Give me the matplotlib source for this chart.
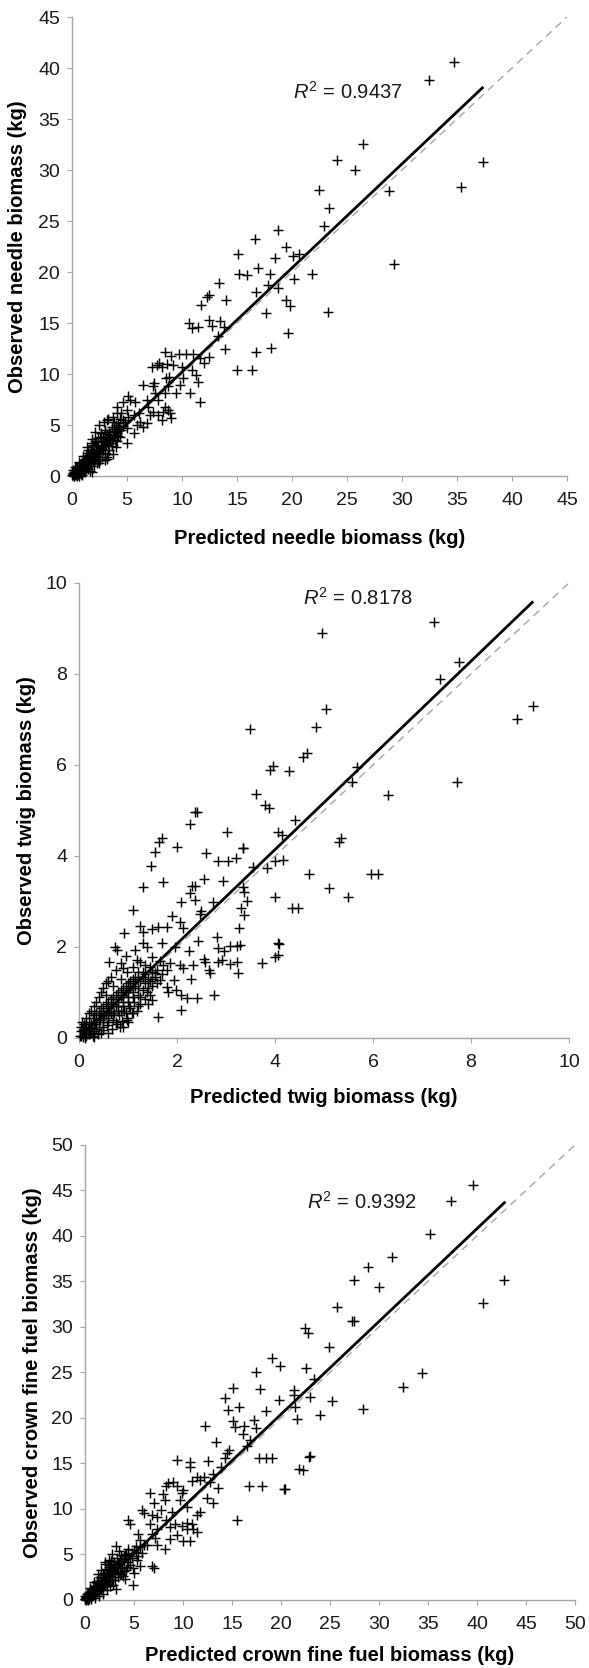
import numpy as np
import matplotlib
matplotlib.use("Agg")
import matplotlib.pyplot as plt

plt.rcParams['font.family'] = ['Liberation Sans', 'DejaVu Sans']
plt.rcParams['mathtext.fontset'] = 'custom'
plt.rcParams['mathtext.rm'] = 'Liberation Sans'
plt.rcParams['mathtext.it'] = 'Liberation Sans:italic'

# ---- needle biomass: (predicted, observed) in kg ----
needle_points = [
    (34.7, 40.6), (32.5, 38.8), (26.5, 32.6), (24.1, 31.0), (25.7, 30.0), (37.4, 30.8),
    (35.4, 28.3), (22.5, 28.0), (28.8, 27.9), (23.4, 26.3), (22.9, 24.5), (18.7, 24.1),
    (16.6, 23.2), (19.5, 22.5), (29.3, 20.8), (23.3, 16.1), (21.8, 19.8), (20.6, 21.8),
    (15.1, 21.8), (18.5, 21.4), (20.1, 21.6), (16.9, 20.4), (15.2, 19.8), (15.9, 19.7),
    (18.0, 19.8), (20.2, 19.3), (18.7, 18.4), (17.8, 18.7), (13.4, 18.9), (16.7, 18.0),
    (12.5, 17.7), (12.3, 17.6), (14.0, 17.3), (19.5, 17.3), (19.8, 16.7), (11.7, 16.8),
    (17.6, 16.0), (10.6, 15.0), (12.5, 15.3), (13.5, 15.2), (10.9, 14.5), (11.5, 14.6),
    (12.7, 14.7), (13.8, 14.6), (19.6, 14.0), (13.3, 13.7), (16.7, 12.2), (18.1, 12.6),
    (13.9, 12.5), (11.6, 11.6), (12.5, 11.7), (15.0, 10.4), (16.4, 10.4), (12.0, 11.1),
    (11.6, 7.3), (10.7, 8.1),
    (7.24, 10.72), (7.7, 10.9), (7.94, 11.1), (8.5, 12.2), (8.6, 11.0), (9.0, 11.8),
    (9.7, 12.0), (10.4, 12.0), (11.0, 12.0), (9.2, 10.9), (10.0, 10.7), (8.2, 10.7),
    (8.85, 9.7), (8.55, 9.6), (10.06, 9.6), (11.3, 9.9), (10.9, 10.4), (11.5, 9.25),
    (9.8, 8.9), (9.5, 8.1), (7.4, 8.8), (6.5, 8.9), (7.5, 9.1), (7.55, 8.1),
    (8.45, 8.1), (8.75, 8.8), (7.8, 7.45), (6.8, 7.45), (6.94, 6.8), (8.45, 6.8),
    (8.75, 6.5), (8.3, 6.3), (8.9, 6.2), (8.2, 5.5), (7.85, 6.0), (7.4, 6.3),
    (7.1, 6.0), (9.0, 5.7), (6.5, 4.8), (6.8, 5.2), (6.2, 5.3), (5.9, 5.0),
    (5.6, 6.0), (6.1, 6.2), (5.3, 7.45), (5.7, 7.3), (5.1, 7.8), (4.6, 7.3),
    (4.06, 6.8), (4.1, 6.2), (4.5, 6.2), (4.97, 6.5), (5.12, 5.8), (4.67, 5.5),
    (3.76, 5.8), (3.15, 5.5), (4.2, 5.2), (5.6, 4.2), (4.97, 3.2), (4.36, 3.85),
    (3.9, 4.35), (3.45, 3.7), (3.0, 4.35), (2.55, 3.85), (2.1, 3.4), (1.8, 3.2),
    (2.85, 3.0), (3.6, 2.9), (2.55, 2.55), (3.3, 2.2), (1.94, 2.1), (1.33, 1.7),
    (2.55, 1.6), (1.64, 1.3), (0.88, 1.1), (0.42, 0.8), (1.79, 0.37), (1.18, 0.6),
    (0.73, 0.46), (0.12, 0.24), (0.0, 0.1), (0.27, 0.6), (0.58, 0.3), (1.03, 0.95),
    (1.48, 2.55), (2.24, 2.9), (4.06, 3.4), (3.15, 1.7), (2.24, 1.3), (1.33, 1.3),
    (0.05, 0.1), (0.1, 0.3), (0.15, 0.05), (0.2, 0.4), (0.25, 0.2), (0.3, 0.6),
    (0.35, 0.1), (0.4, 0.5), (0.45, 0.3), (0.5, 0.8), (0.55, 0.2), (0.6, 0.6),
    (0.7, 1.0), (0.7, 0.3), (0.8, 0.7), (0.9, 1.3), (0.9, 0.5), (1.0, 1.0),
    (1.1, 1.6), (1.1, 0.6), (1.2, 1.2), (1.3, 2.0), (1.3, 0.8), (1.4, 1.5),
    (1.5, 2.3), (1.5, 1.0), (1.6, 1.8), (1.7, 2.6), (1.7, 1.2), (1.8, 2.1),
    (1.9, 3.0), (1.9, 1.5), (2.0, 2.4), (2.1, 1.8), (2.2, 3.3), (2.2, 2.0),
    (2.3, 2.7), (2.4, 3.7), (2.4, 1.6), (2.5, 2.2), (2.6, 3.0), (2.6, 4.2),
    (2.7, 1.9), (2.8, 2.6), (2.9, 3.4), (3.0, 2.3), (3.0, 4.5), (3.1, 3.0),
    (3.2, 1.9), (3.3, 3.8), (3.4, 2.6), (3.5, 4.0), (3.6, 3.2), (3.7, 2.2),
    (3.8, 4.6), (3.9, 3.5), (4.0, 2.8), (4.2, 3.9), (4.3, 4.8), (0.2, 0.0),
    (0.5, 0.05), (0.8, 0.2), (1.2, 0.35), (1.6, 0.5), (0.3, 0.9), (0.6, 1.4),
    (1.0, 2.0), (1.4, 2.8), (1.8, 3.6), (2.1, 4.3), (2.5, 5.0), (2.9, 5.3), (3.3, 5.6),
    (0.4, 0.9), (0.6, 0.9), (0.8, 1.1), (1.0, 1.4), (1.2, 1.7), (1.4, 2.0),
    (1.6, 2.3), (1.8, 2.6), (2.0, 2.9), (2.2, 2.5), (2.4, 2.9), (2.6, 3.4),
    (2.8, 3.8), (3.0, 3.6), (3.2, 4.1), (3.4, 4.4), (3.6, 4.8), (3.8, 5.3),
    (4.0, 5.0), (4.2, 4.4), (4.4, 5.6), (4.6, 4.9), (4.8, 5.3), (5.0, 4.7),
    (0.3, 0.3), (0.5, 0.5), (0.7, 0.7), (0.9, 0.9), (1.1, 1.1), (1.3, 1.3),
    (1.5, 1.5), (1.7, 1.7), (1.9, 2.0), (2.1, 2.2), (2.3, 2.4), (2.5, 2.6),
    (2.7, 2.8), (2.9, 2.9), (3.1, 3.3), (3.3, 3.1), (3.5, 3.5), (3.7, 3.8),
    (3.9, 4.0), (4.1, 4.2), (4.5, 4.5), (1.0, 0.4), (1.5, 0.7), (2.0, 1.0),
    (2.5, 1.3), (3.0, 1.6), (0.1, 0.6), (0.2, 0.2), (0.6, 0.0), (0.9, 0.1),
]
needle_fit = (1.02, 0.0, 37.4)     # slope, intercept, last predicted value
needle_r2 = 0.9437

# ---- twig biomass ----
twig_points = [
    (4.96, 8.9), (7.24, 9.15), (7.76, 8.27), (7.37, 7.9), (5.04, 7.23), (4.84, 6.84),
    (9.27, 7.3), (8.94, 7.0), (3.5, 6.8), (4.57, 6.18), (4.65, 6.26), (3.9, 5.9),
    (3.96, 5.98), (4.29, 5.87), (5.67, 5.96), (5.57, 5.63), (7.71, 5.62), (6.3, 5.35),
    (5.35, 4.4), (5.3, 4.3), (4.7, 3.6), (5.1, 3.3), (5.5, 3.1), (5.95, 3.6),
    (6.1, 3.6), (4.35, 2.85),
    (3.61, 5.36), (3.8, 5.12), (3.87, 5.05), (2.37, 4.97), (2.4, 4.96), (2.27, 4.7),
    (3.03, 4.52), (4.41, 4.79), (4.07, 4.53), (4.14, 4.46), (1.69, 4.39), (1.64, 4.31),
    (1.55, 4.09), (2.01, 4.2), (2.6, 4.07), (2.84, 3.89), (3.05, 3.89), (3.2, 3.96),
    (3.34, 4.18), (3.35, 4.17), (3.56, 3.75), (3.83, 3.73), (4.0, 3.89), (4.17, 3.91),
    (1.46, 3.78), (1.3, 3.31), (1.71, 3.43), (2.55, 3.49), (2.93, 3.45), (2.3, 3.33),
    (2.37, 3.34), (2.27, 3.18), (2.08, 2.98), (2.37, 3.03), (2.74, 2.98), (3.35, 3.31),
    (3.36, 3.21), (3.42, 3.01), (3.3, 2.86), (3.37, 2.7), (4.0, 3.1), (4.46, 2.86),
    (2.47, 2.72), (2.5, 2.78), (1.1, 2.81), (1.9, 2.68), (2.06, 2.56), (1.24, 2.46),
    (1.31, 2.32), (1.62, 2.45), (1.79, 2.45), (0.92, 2.3), (1.48, 2.39), (2.12, 2.41),
    (2.25, 1.92), (2.43, 2.14), (2.81, 2.23), (3.27, 2.41), (0.73, 1.99), (0.77, 1.93),
    (1.14, 1.93), (1.31, 2.08), (1.38, 2.0), (1.69, 2.08), (1.96, 2.0), (2.84, 1.98),
    (2.96, 1.91), (3.08, 2.03), (3.23, 2.03), (3.29, 2.04), (4.07, 2.09), (4.09, 2.06),
    (4.07, 1.82), (4.0, 1.79), (3.73, 1.64), (0.62, 1.68), (0.9, 1.53), (0.97, 1.46),
    (1.18, 1.71), (1.24, 1.68), (1.5, 1.78), (1.72, 1.6), (1.86, 1.64), (2.06, 1.6),
    (2.13, 1.53), (2.28, 1.3), (2.33, 1.6), (2.55, 1.73), (2.58, 1.66), (2.66, 1.5),
    (2.67, 1.42), (2.84, 1.68), (2.91, 1.71), (3.08, 1.62), (3.23, 1.68), (3.25, 1.43),
    (1.93, 1.28), (1.79, 1.13), (1.82, 1.02), (1.99, 1.05), (2.09, 0.94), (2.2, 0.87),
    (2.4, 0.87), (2.76, 0.94), (2.09, 0.61), (1.61, 0.47), (1.65, 1.28), (1.55, 1.42),
    (1.38, 1.0), (1.48, 0.84), (1.21, 0.7), (1.11, 0.55), (0.97, 0.4), (0.84, 0.25),
    (0.02, 0.05), (0.05, 0.15), (0.08, 0.02), (0.1, 0.1), (0.12, 0.25), (0.15, 0.05),
    (0.18, 0.18), (0.2, 0.35), (0.22, 0.1), (0.25, 0.22), (0.28, 0.45), (0.3, 0.15),
    (0.32, 0.3), (0.35, 0.55), (0.38, 0.08), (0.4, 0.25), (0.42, 0.4), (0.45, 0.65),
    (0.48, 0.18), (0.5, 0.35), (0.52, 0.5), (0.55, 0.75), (0.58, 0.28), (0.6, 0.45),
    (0.62, 0.6), (0.65, 0.85), (0.68, 0.2), (0.7, 0.4), (0.72, 0.55), (0.75, 0.95),
    (0.78, 0.3), (0.8, 0.7), (0.82, 0.5), (0.85, 1.05), (0.88, 0.38), (0.9, 0.8),
    (0.92, 0.6), (0.95, 1.15), (0.98, 0.45), (1.0, 0.9), (1.02, 0.7), (1.05, 1.25),
    (1.08, 0.55), (1.1, 1.0), (1.12, 0.8), (1.15, 1.35), (1.18, 0.6), (1.2, 1.1),
    (1.25, 0.9), (1.3, 1.45), (1.35, 1.2), (1.4, 0.75), (1.45, 1.55), (1.5, 1.3),
    (0.15, 0.45), (0.25, 0.6), (0.35, 0.8), (0.45, 1.0), (0.55, 1.2), (0.65, 1.35),
    (0.75, 1.5), (0.85, 1.65), (0.95, 1.8), (0.2, 0.55), (0.3, 0.7), (0.4, 0.9),
    (0.5, 1.1), (0.6, 1.25), (0.1, 0.3), (0.06, 0.35), (0.12, 0.0), (0.3, 0.02),
    (0.45, 0.1), (0.6, 0.12), (0.9, 0.25), (1.0, 0.35),
    (0.05, 0.05), (0.1, 0.2), (0.15, 0.12), (0.2, 0.25), (0.25, 0.3), (0.3, 0.35),
    (0.35, 0.3), (0.4, 0.45), (0.45, 0.5), (0.5, 0.55), (0.55, 0.5), (0.6, 0.65),
    (0.65, 0.7), (0.7, 0.75), (0.75, 0.7), (0.8, 0.85), (0.85, 0.9), (0.9, 0.95),
    (0.95, 1.0), (1.0, 1.05), (1.05, 1.1), (1.1, 1.2), (1.15, 1.15), (1.2, 1.3),
    (1.25, 1.25), (1.3, 1.35), (1.35, 1.4), (1.4, 1.3), (1.45, 1.25), (1.5, 1.45),
    (1.55, 1.35), (1.6, 1.2), (0.3, 0.5), (0.4, 0.6), (0.5, 0.7), (0.6, 0.8),
    (0.7, 0.9), (0.8, 1.0), (0.9, 1.1), (1.0, 1.2), (1.1, 1.3), (1.2, 1.45),
    (0.5, 0.25), (0.6, 0.35), (0.7, 0.5), (0.8, 0.6), (0.9, 0.7), (1.0, 0.8),
    (1.1, 0.9), (1.2, 0.95), (1.3, 1.05), (1.4, 1.1), (1.5, 1.15), (0.25, 0.1),
    (0.35, 0.2), (0.15, 0.3), (0.08, 0.18), (0.04, 0.25), (0.2, 0.08), (0.28, 0.05),
    (1.6, 1.5), (1.7, 1.4), (1.8, 1.5), (1.65, 1.7), (1.35, 1.6), (1.1, 1.55),
    (0.85, 1.3), (0.7, 1.15), (0.55, 0.95), (0.65, 0.55), (0.75, 0.35), (0.85, 0.6),
    (0.95, 0.55), (1.05, 0.65), (1.25, 0.75), (1.35, 0.85), (1.45, 0.95),
]
twig_fit = (1.035, 0.0, 9.27)
twig_r2 = 0.8178

# ---- crown fine fuel biomass ----
crown_points = [
    (39.6, 45.6), (37.3, 43.8), (35.2, 40.2), (31.3, 37.7), (28.9, 36.6), (27.4, 35.2),
    (30.0, 34.4), (42.8, 35.2), (40.6, 32.6), (25.7, 32.2), (27.2, 30.7), (27.5, 30.7),
    (22.4, 29.9), (22.8, 29.3), (22.6, 25.5), (24.9, 27.8), (23.0, 22.3), (23.4, 24.3),
    (24.0, 20.3), (25.2, 21.9), (22.9, 15.7), (28.4, 21.0), (32.5, 23.4), (34.4, 24.9),
    (20.4, 12.2), (22.2, 14.3), (23.0, 15.8),
    (19.05, 26.6), (19.9, 25.7), (17.45, 25.0), (15.1, 23.3), (17.9, 23.2), (14.3, 22.2),
    (19.8, 22.0), (14.6, 20.9), (15.75, 21.2), (18.5, 20.8), (21.3, 23.1), (21.3, 22.5),
    (21.4, 21.2), (21.6, 19.9), (15.07, 19.7), (15.3, 19.0), (16.2, 19.1), (17.25, 19.8),
    (17.5, 18.9), (12.25, 19.1), (16.1, 18.2), (16.8, 17.6), (16.5, 16.9), (13.4, 17.4),
    (14.7, 16.5), (14.5, 16.1), (14.3, 15.6), (13.9, 14.6), (17.8, 15.6), (18.5, 15.6),
    (19.05, 15.55), (21.8, 14.4), (16.7, 12.5), (18.1, 12.5), (20.3, 12.2), (15.5, 8.8),
    (9.35, 15.4), (10.7, 15.2), (10.7, 14.6), (12.6, 15.3), (11.4, 13.5), (11.7, 13.2),
    (10.9, 13.1), (12.1, 13.5), (13.1, 13.8), (12.8, 13.0), (13.6, 12.3), (12.4, 11.2),
    (13.1, 10.6), (8.5, 12.8), (9.0, 13.0), (8.3, 12.5), (9.35, 12.5), (9.9, 11.7),
    (10.0, 12.1), (6.6, 11.8), (7.99, 11.6), (8.2, 11.0), (7.0, 10.7), (9.7, 11.0),
    (10.4, 10.2), (5.8, 9.9), (6.0, 9.6), (7.8, 9.9), (7.3, 9.1), (6.8, 9.35),
    (8.85, 9.7), (11.7, 9.7), (11.4, 9.35), (4.4, 8.8), (4.6, 8.3), (6.6, 8.3),
    (7.3, 7.8), (8.3, 8.8), (8.7, 8.0), (9.2, 8.4), (9.9, 8.1), (10.4, 8.5),
    (10.4, 7.8), (10.9, 8.4), (11.05, 7.8), (11.4, 7.5), (9.35, 7.1), (10.0, 6.5),
    (10.7, 6.5), (8.7, 6.7), (8.2, 5.6), (7.3, 6.0), (6.8, 7.2), (7.1, 6.8),
    (6.3, 6.0), (5.4, 7.3), (5.6, 6.6), (5.2, 5.9), (3.2, 5.9), (3.5, 5.4),
    (4.4, 5.6), (4.1, 4.9), (6.8, 3.7), (7.0, 3.5), (4.9, 1.6), (5.3, 4.4),
    (5.6, 3.7), (4.9, 3.5), (2.0, 4.2), (2.55, 3.8), (3.6, 2.9), (4.1, 2.3),
    (2.9, 1.6), (3.2, 1.2), (1.5, 1.2), (1.2, 1.9), (0.85, 1.2), (0.5, 0.84),
    (0.17, 0.48), (0.0, 0.11),
    (0.05, 0.1), (0.1, 0.3), (0.2, 0.05), (0.3, 0.5), (0.4, 0.2), (0.5, 0.8),
    (0.6, 0.3), (0.7, 1.0), (0.8, 0.5), (0.9, 1.2), (1.0, 0.6), (1.1, 1.5),
    (1.2, 0.9), (1.3, 1.8), (1.4, 1.1), (1.5, 2.1), (1.6, 1.3), (1.7, 2.4),
    (1.8, 1.5), (1.9, 2.7), (2.0, 1.8), (2.1, 3.0), (2.2, 2.0), (2.3, 3.3),
    (2.4, 2.3), (2.5, 3.6), (2.6, 2.6), (2.7, 3.9), (2.8, 2.2), (2.9, 3.2),
    (3.0, 4.2), (3.1, 2.8), (3.2, 3.6), (3.3, 4.6), (3.4, 2.5), (3.5, 3.9),
    (3.6, 3.1), (3.7, 4.9), (3.8, 3.5), (3.9, 2.6), (4.0, 4.3), (4.2, 3.3),
    (4.4, 5.0), (4.6, 3.8), (4.8, 4.6), (5.0, 3.0), (5.2, 5.3), (0.3, 0.0),
    (0.6, 0.1), (1.0, 0.25), (1.4, 0.4), (1.8, 0.7), (2.2, 1.1), (2.6, 1.5),
    (0.2, 0.7), (0.5, 1.3), (0.9, 2.0), (1.3, 2.8), (1.6, 3.3), (2.0, 3.9),
    (2.4, 4.4), (2.8, 5.0), (0.15, 0.2), (0.35, 0.35), (0.55, 0.55), (0.75, 0.7),
    (0.95, 0.9), (1.15, 1.1), (1.35, 1.35), (1.55, 1.6), (1.75, 1.9), (1.95, 2.2),
    (0.4, 0.6), (0.6, 0.8), (0.8, 0.9), (1.0, 1.1), (1.2, 1.4), (1.4, 1.6),
    (1.6, 1.9), (1.8, 2.1), (2.0, 2.3), (2.2, 2.6), (2.4, 2.8), (2.6, 3.1),
    (2.8, 3.3), (3.0, 3.5), (3.2, 3.8), (3.4, 4.0), (3.6, 4.3), (3.8, 4.5),
    (4.0, 4.8), (4.2, 5.0), (4.4, 4.2), (4.6, 4.6), (4.8, 5.2), (5.0, 5.5),
    (5.4, 4.8), (5.6, 5.8), (5.8, 5.2), (6.0, 6.0), (0.7, 0.4), (1.0, 0.8),
    (1.3, 1.0), (1.6, 1.2), (1.9, 1.5), (2.2, 1.7), (2.5, 2.0), (2.8, 2.5),
    (3.1, 2.2), (3.4, 3.0), (3.7, 2.8), (4.0, 3.2), (4.3, 3.6), (0.3, 0.8),
    (0.6, 1.1), (0.9, 1.5), (1.2, 2.1), (1.5, 2.5), (1.8, 2.9), (2.1, 3.4),
    (2.4, 3.9), (2.7, 4.3), (0.1, 0.0), (0.2, 0.35), (0.45, 0.1), (0.05, 0.4),
]
crown_fit = (1.02, 0.0, 42.9)
crown_r2 = 0.9392

GRAY = "#A6A6A6"


def draw_panel(ax, points, fit, r2, lim, step, r2_xy, xlabel, ylabel, ylab_x, xlab_y):
    pts = np.array(points)
    ax.scatter(pts[:, 0], pts[:, 1], marker='+', s=55, linewidths=1.05,
               color='black', clip_on=False, zorder=3)

    # 1:1 reference line
    ax.plot([0, lim], [0, lim], color=GRAY, lw=1.0, dashes=(5.5, 4), zorder=2)

    # fitted regression line
    slope, icpt, x_end = fit
    fx = np.array([0.0, x_end])
    ax.plot(fx, slope * fx + icpt, color='black', lw=2.0, zorder=4,
            solid_capstyle='butt')

    ax.text(r2_xy[0], r2_xy[1], r'$R^2$ = %.4f' % r2, fontsize=14.5,
            ha='left', va='center', color='#1a1a1a')

    ax.set_xlim(0, lim)
    ax.set_ylim(0, lim)
    ax.set_xticks(np.arange(0, lim + step / 2, step))
    ax.set_yticks(np.arange(0, lim + step / 2, step))

    for side in ('top', 'right'):
        ax.spines[side].set_visible(False)
    for side in ('left', 'bottom'):
        ax.spines[side].set_color(GRAY)
        ax.spines[side].set_linewidth(1.0)

    ax.tick_params(axis='both', direction='out', length=3.6, width=0.8,
                   color=GRAY, labelcolor='#1a1a1a', labelsize=14)
    ax.tick_params(axis='x', pad=8)
    ax.tick_params(axis='y', pad=5)

    ax.set_xlabel(xlabel, fontsize=14.5, fontweight='bold', va='center')
    ax.set_ylabel(ylabel, fontsize=14.5, fontweight='bold', va='center')
    ax.xaxis.set_label_coords(0.5, xlab_y)
    ax.yaxis.set_label_coords(ylab_x, 0.5)


fig = plt.figure(figsize=(5.89, 16.68), dpi=100)

ax1 = fig.add_axes([0.1222, 0.7146, 0.8404, 0.2752])
draw_panel(ax1, needle_points, needle_fit, needle_r2, 45, 5, (20.1, 37.7),
           "Predicted needle biomass (kg)", "Observed needle biomass (kg)",
           -0.110, -0.135)

ax2 = fig.add_axes([0.1341, 0.3777, 0.8319, 0.2728])
draw_panel(ax2, twig_points, twig_fit, twig_r2, 10, 2, (4.57, 9.67),
           "Predicted twig biomass (kg)", "Observed twig biomass (kg)",
           -0.108, -0.130)

ax3 = fig.add_axes([0.1443, 0.0408, 0.8319, 0.2728])
draw_panel(ax3, crown_points, crown_fit, crown_r2, 50, 5, (22.65, 43.7),
           "Predicted crown fine fuel biomass (kg)",
           "Observed crown fine fuel biomass (kg)", -0.108, -0.121)

plt.savefig("out.png", dpi=100)
